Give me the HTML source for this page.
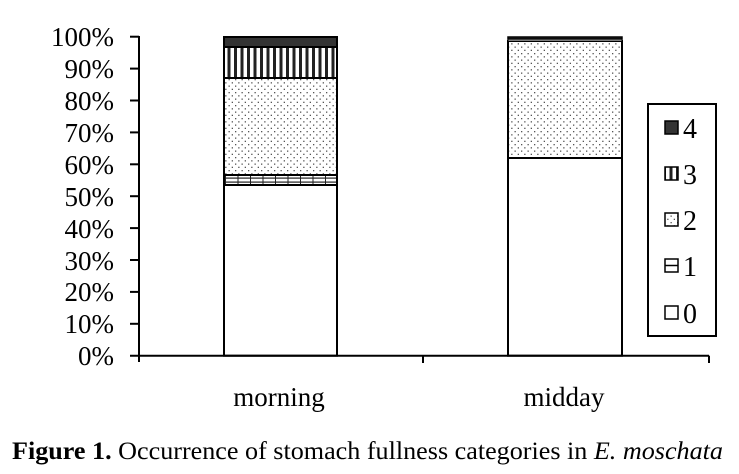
<!DOCTYPE html>
<html><head><style>body{margin:0;background:#fff}svg{display:block}text{font-family:"Liberation Serif","Times New Roman",serif}</style></head><body>
<svg width="739" height="474" viewBox="0 0 739 474" xmlns="http://www.w3.org/2000/svg">
<defs>
<pattern id="dots" width="6.5" height="6.5" patternUnits="userSpaceOnUse"><rect width="6.5" height="6.5" fill="#fff"/><rect x="1" y="1" width="1.3" height="1.3" fill="#555"/><rect x="4.2" y="4.2" width="1.3" height="1.3" fill="#555"/></pattern>
<pattern id="vl" width="6.5" height="10" patternUnits="userSpaceOnUse"><rect width="6.5" height="10" fill="#fff"/><rect x="0" y="0" width="3" height="10" fill="#222"/></pattern>
<pattern id="grid" width="12.5" height="4" patternUnits="userSpaceOnUse"><rect width="12.5" height="4" fill="#fff"/><rect x="0" y="1.5" width="12.5" height="1.2" fill="#222"/><rect x="0" y="0" width="1" height="4" fill="#222"/></pattern>
</defs>
<g fill="#000" font-size="27" text-anchor="end">
<text x="114" y="46">100%</text><text x="114" y="78">90%</text><text x="114" y="110">80%</text><text x="114" y="142">70%</text><text x="114" y="174">60%</text><text x="114" y="206">50%</text><text x="114" y="238">40%</text><text x="114" y="270">30%</text><text x="114" y="301">20%</text><text x="114" y="333">10%</text><text x="114" y="365">0%</text>
</g>
<g stroke="#000" stroke-width="2">
<rect x="224" y="185" width="113" height="170.7" fill="#fff"/>
<rect x="224" y="175" width="113" height="10" fill="url(#grid)"/>
<rect x="224" y="78" width="113" height="97" fill="url(#dots)"/>
<rect x="224" y="47" width="113" height="31" fill="url(#vl)"/>
<rect x="224" y="37" width="113" height="10" fill="#333"/>
<rect x="508" y="158" width="114" height="197.7" fill="#fff"/>
<rect x="508" y="41" width="114" height="117" fill="url(#dots)"/>
<rect x="508" y="39" width="114" height="2" fill="#fff" stroke-width="1"/>
<rect x="508" y="37" width="114" height="2" fill="#333" stroke-width="1.5"/>
</g>
<g stroke="#000" stroke-width="2" fill="none">
<line x1="139" y1="36" x2="139" y2="362"/>
<line x1="130" y1="355.7" x2="709" y2="355.7"/>
<line x1="709" y1="355.7" x2="709" y2="363"/>
<line x1="423" y1="355.7" x2="423" y2="363"/>
<line x1="130" y1="36.7" x2="139" y2="36.7"/><line x1="130" y1="68.6" x2="139" y2="68.6"/><line x1="130" y1="100.5" x2="139" y2="100.5"/><line x1="130" y1="132.4" x2="139" y2="132.4"/><line x1="130" y1="164.3" x2="139" y2="164.3"/><line x1="130" y1="196.2" x2="139" y2="196.2"/><line x1="130" y1="228.1" x2="139" y2="228.1"/><line x1="130" y1="260" x2="139" y2="260"/><line x1="130" y1="291.9" x2="139" y2="291.9"/><line x1="130" y1="323.8" x2="139" y2="323.8"/>
<rect x="648" y="104" width="68" height="232" fill="#fff"/>
</g>
<g stroke="#000" stroke-width="1.5">
<rect x="665" y="121" width="13" height="13" fill="#333"/>
<rect x="665" y="167" width="13" height="13" fill="url(#vl)"/>
<rect x="665" y="213" width="13" height="13" fill="url(#dots)"/>
<rect x="665" y="259" width="13" height="13" fill="#fff"/><line x1="665" y1="265.5" x2="678" y2="265.5"/>
<rect x="665" y="306" width="13" height="13" fill="#fff"/>
</g>
<g font-size="28" fill="#000">
<text x="683" y="138">4</text><text x="683" y="184">3</text><text x="683" y="230">2</text><text x="683" y="276">1</text><text x="683" y="323">0</text>
</g>
<g font-size="27" fill="#000" text-anchor="middle">
<text x="279" y="406">morning</text><text x="564" y="406">midday</text>
</g>
<text x="12" y="459" font-size="25" textLength="711" lengthAdjust="spacingAndGlyphs"><tspan font-weight="bold">Figure 1.</tspan> Occurrence of stomach fullness categories in <tspan font-style="italic">E. moschata</tspan></text>
</svg>
</body></html>
